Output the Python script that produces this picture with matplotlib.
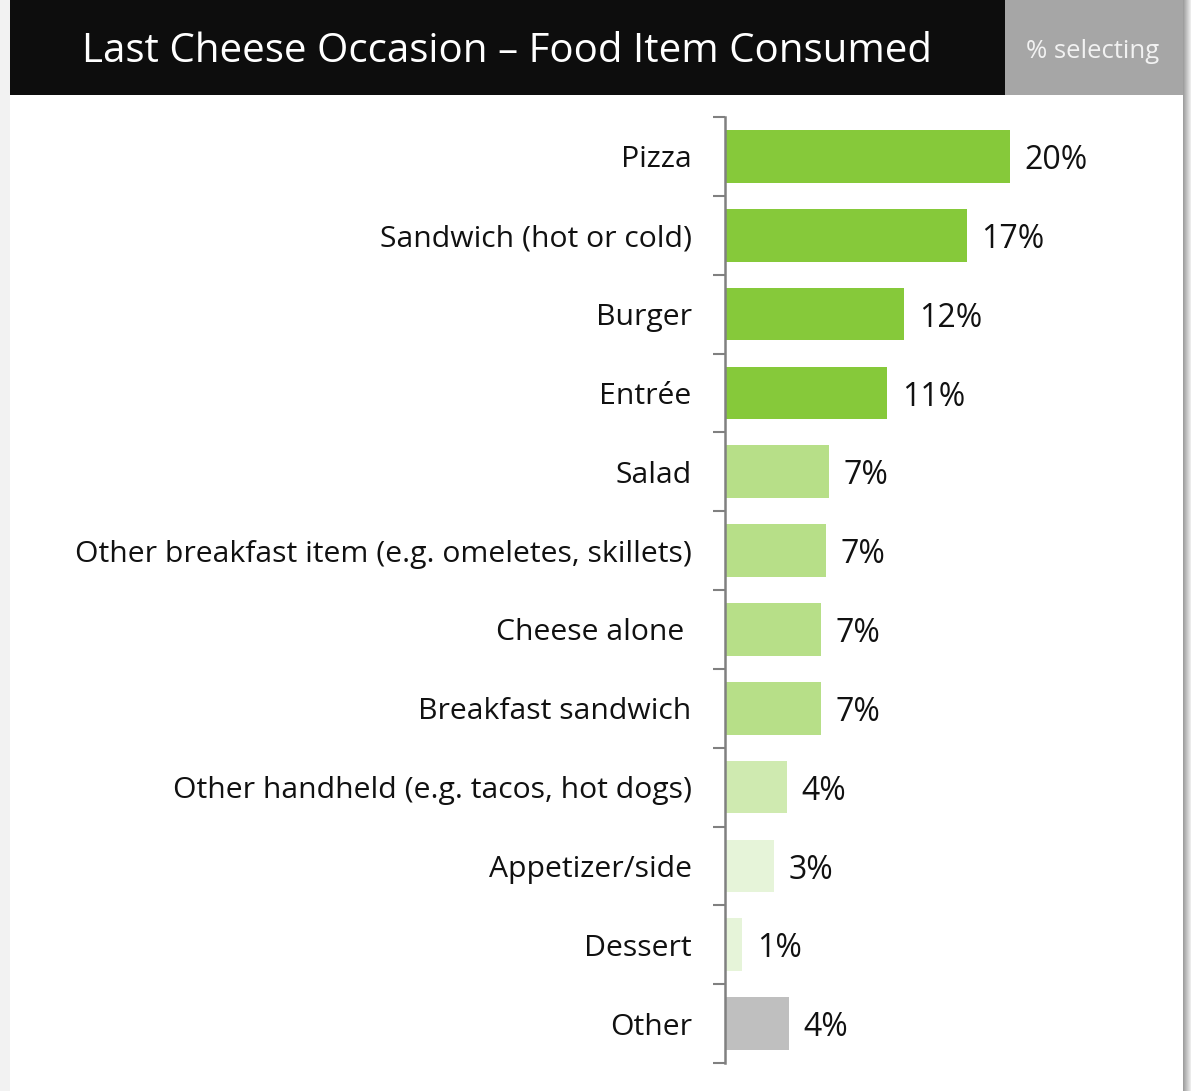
import numpy as np
import matplotlib.pyplot as plt
from matplotlib.patches import Rectangle

plt.rcParams['font.family'] = ['Open Sans', 'DejaVu Sans']

# food items, top to bottom
items = ["Pizza", "Sandwich (hot or cold)", "Burger", "Entrée", "Salad",
         "Other breakfast item (e.g. omeletes, skillets)", "Cheese alone ",
         "Breakfast sandwich", "Other handheld (e.g. tacos, hot dogs)",
         "Appetizer/side", "Dessert", "Other"]
pct = [19.7, 16.7, 12.4, 11.2, 7.2, 7.0, 6.6, 6.6, 4.3, 3.4, 1.2, 4.4]
bar_colors = ["#86C93A"] * 4 + ["#B7DF88"] * 4 + ["#CFEAB0", "#E6F4D9", "#E6F4D9", "#BFBFBF"]

title = "Last Cheese Occasion \u2013 Food Item Consumed"
side_note = "% selecting"

W, H = 1191, 1091
fig = plt.figure(figsize=(W / 100, H / 100), dpi=100, facecolor="white")

def px_rect(x0, y0, x1, y1, color, z=0):
    # rectangle in pixel coords measured from the top-left corner
    fig.patches.append(Rectangle((x0 / W, 1 - y1 / H), (x1 - x0) / W, (y1 - y0) / H,
                                 transform=fig.transFigure, facecolor=color,
                                 edgecolor="none", zorder=z))

# page background, header bar and note box
px_rect(0, 0, 10, H, "#F2F2F2")
px_rect(10, 0, 1005, 95, "#0D0D0D")
px_rect(1005, 0, 1183, 95, "#A6A6A6")
# soft shadow on the right edge
shade = np.linspace(0.62, 0.92, 8)
for i, g in enumerate(shade):
    px_rect(1183 + i, 0, 1184 + i, H, (g, g, g))

fig.text(82 / W, 1 - 52 / H, title, color="white", fontsize=29,
         ha="left", va="center")
fig.text(1093 / W, 1 - 51 / H, side_note, color="#F2F2F2", fontsize=18.5,
         ha="center", va="center")

ax = fig.add_axes([725 / W, (H - 1063) / H, (1182 - 725) / W, (1063 - 117) / H])
ax.set_facecolor("none")
y = np.arange(len(items))
ax.barh(y, pct, height=0.67, color=bar_colors, zorder=2)
ax.set_ylim(len(items) - 0.5, -0.5)
ax.set_xlim(0, 457 / 14.47)

for yi, v in zip(y, pct):
    ax.annotate(f"{v:.0f}%", (v, yi), xytext=(10.5, -3), textcoords="offset points",
                ha="left", va="center", fontsize=23, color="#111111")

ax.set_yticks(y)
ax.set_yticklabels(items)
ax.set_yticks(np.arange(len(items) + 1) - 0.5, minor=True)
ax.tick_params(axis="y", which="major", length=0, pad=24, labelsize=21.7,
               labelcolor="#111111")
ax.tick_params(axis="y", which="minor", length=9, width=1.5, color="#808080")
ax.set_xticks([])
for s in ["top", "right", "bottom"]:
    ax.spines[s].set_visible(False)
ax.spines["left"].set_color("#808080")
ax.spines["left"].set_linewidth(1.8)
ax.spines["left"].set_position(("data", 0))

fig.savefig("out.png", dpi=100, facecolor="white")
